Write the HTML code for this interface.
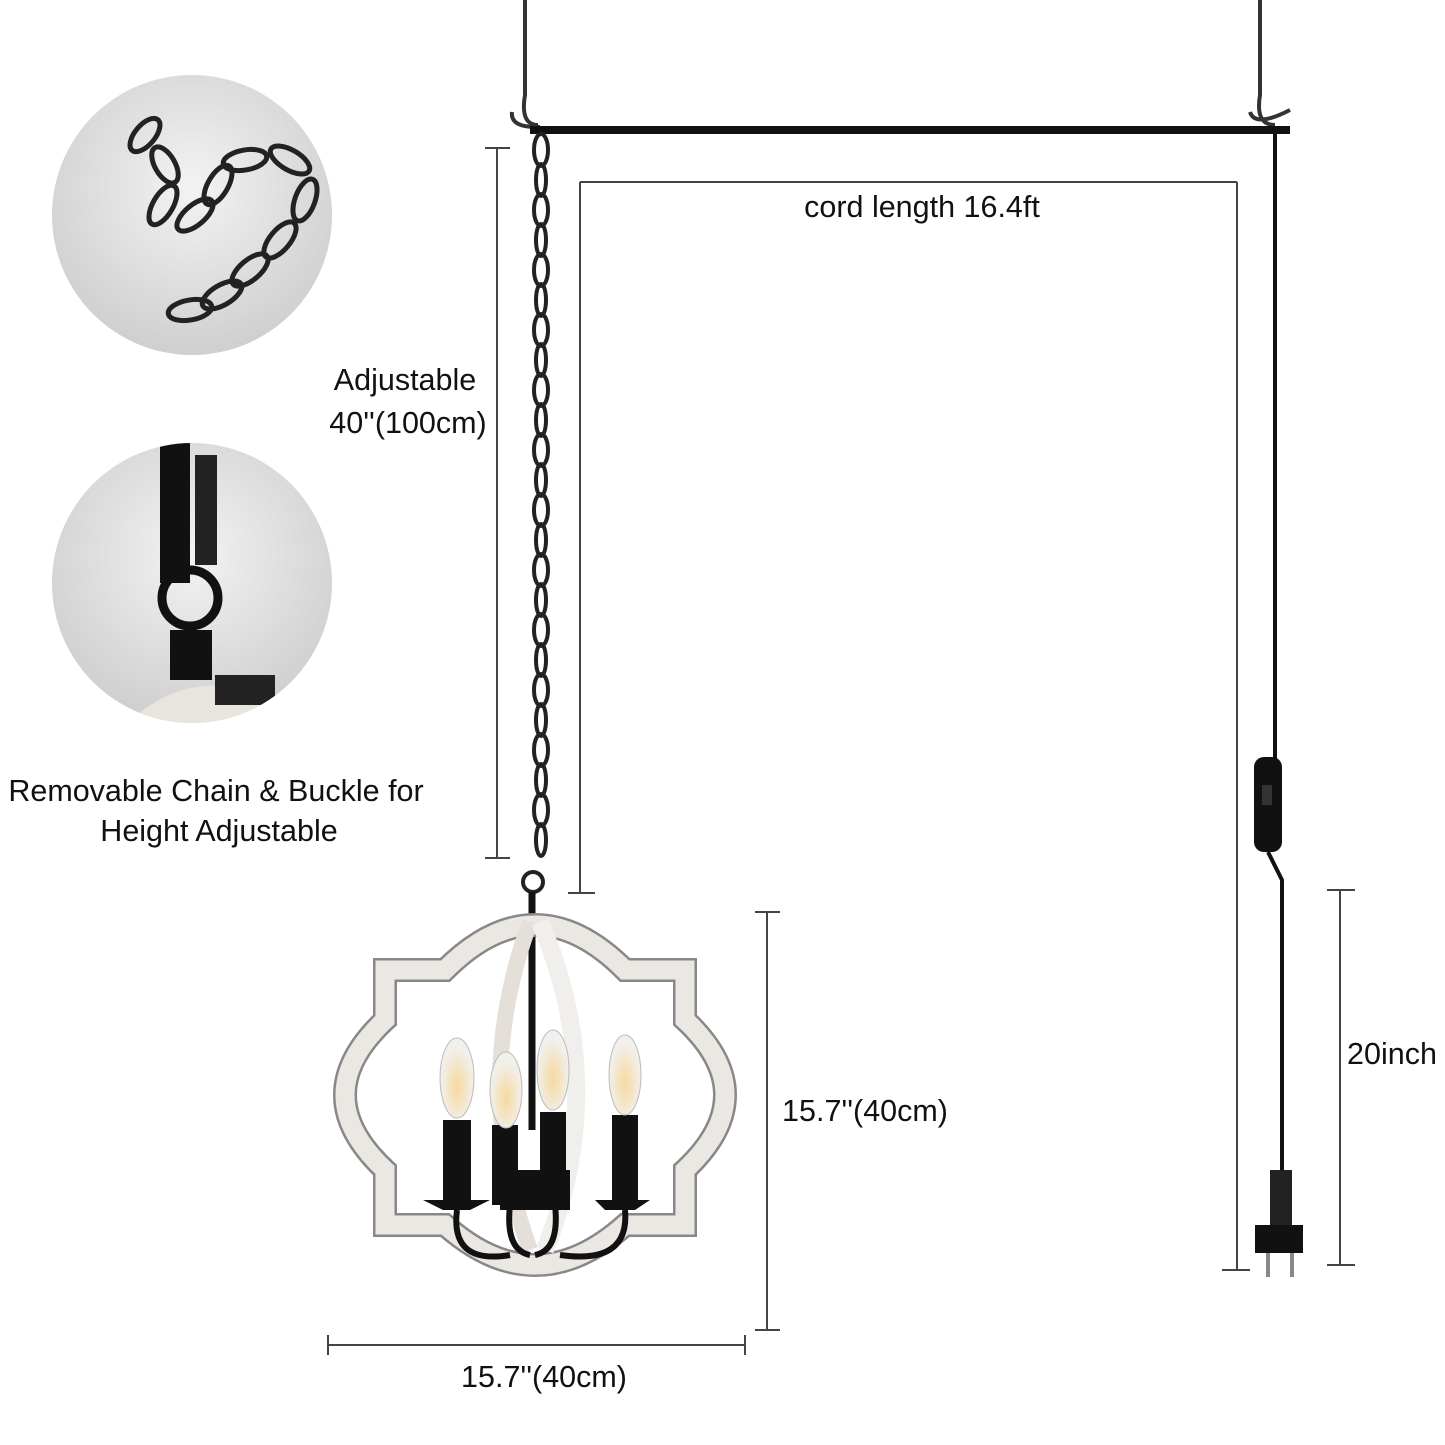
<!DOCTYPE html>
<html><head><style>
body{margin:0;background:#fff;}
svg{display:block;}
text{font-family:"Liberation Sans",sans-serif;fill:#111;}
</style></head><body>
<svg width="1445" height="1445" viewBox="0 0 1445 1445">
<defs>
<radialGradient id="g1" cx="0.5" cy="0.4" r="0.6"><stop offset="0" stop-color="#f3f3f3"/><stop offset="1" stop-color="#cfcfcf"/></radialGradient>
<radialGradient id="bulb" cx="0.5" cy="0.6" r="0.5"><stop offset="0" stop-color="#f6d9a0"/><stop offset="1" stop-color="#f2f0ec"/></radialGradient>
<clipPath id="c1"><circle cx="192" cy="215" r="140"/></clipPath>
<clipPath id="c2"><circle cx="192" cy="583" r="140"/></clipPath>
</defs>
<circle cx="192" cy="215" r="140" fill="url(#g1)"/>
<circle cx="192" cy="583" r="140" fill="url(#g1)"/>
<g clip-path="url(#c1)" fill="none" stroke="#222" stroke-width="5">
<ellipse cx="145" cy="135" rx="20" ry="10" transform="rotate(-50 145 135)"/>
<ellipse cx="165" cy="165" rx="20" ry="10" transform="rotate(60 165 165)"/>
<ellipse cx="163" cy="205" rx="22" ry="10" transform="rotate(-60 163 205)"/>
<ellipse cx="195" cy="215" rx="22" ry="10" transform="rotate(-40 195 215)"/>
<ellipse cx="218" cy="185" rx="22" ry="10" transform="rotate(-60 218 185)"/>
<ellipse cx="245" cy="160" rx="22" ry="10" transform="rotate(-10 245 160)"/>
<ellipse cx="290" cy="160" rx="22" ry="10" transform="rotate(30 290 160)"/>
<ellipse cx="305" cy="200" rx="22" ry="10" transform="rotate(-70 305 200)"/>
<ellipse cx="280" cy="240" rx="22" ry="10" transform="rotate(-50 280 240)"/>
<ellipse cx="250" cy="270" rx="22" ry="10" transform="rotate(-40 250 270)"/>
<ellipse cx="222" cy="295" rx="22" ry="10" transform="rotate(-30 222 295)"/>
<ellipse cx="190" cy="310" rx="22" ry="10" transform="rotate(-10 190 310)"/>
</g>
<g clip-path="url(#c2)">
<rect x="160" y="443" width="30" height="140" fill="#111"/>
<rect x="195" y="455" width="22" height="110" fill="#222"/>
<circle cx="190" cy="598" r="28" fill="none" stroke="#111" stroke-width="9"/>
<rect x="170" y="630" width="42" height="50" fill="#111"/>
<path d="M120 730 Q190 660 270 700 L270 730Z" fill="#e8e4de"/>
<rect x="215" y="675" width="60" height="30" fill="#222"/>
</g>
<g fill="none" stroke="#333" stroke-width="4">
<path d="M525 0 L525 95 Q520 125 538 125"/><path d="M512 112 Q510 128 540 127"/>
<path d="M1260 0 L1260 95 Q1255 125 1275 125"/><path d="M1250 112 Q1255 128 1290 110"/>
</g>
<rect x="530" y="126" width="760" height="8" fill="#111"/>
<g fill="none" stroke="#222" stroke-width="4">
<ellipse cx="541" cy="150" rx="7" ry="16"/><ellipse cx="541" cy="180" rx="5" ry="16"/>
<ellipse cx="541" cy="210" rx="7" ry="16"/><ellipse cx="541" cy="240" rx="5" ry="16"/>
<ellipse cx="541" cy="270" rx="7" ry="16"/><ellipse cx="541" cy="300" rx="5" ry="16"/>
<ellipse cx="541" cy="330" rx="7" ry="16"/><ellipse cx="541" cy="360" rx="5" ry="16"/>
<ellipse cx="541" cy="390" rx="7" ry="16"/><ellipse cx="541" cy="420" rx="5" ry="16"/>
<ellipse cx="541" cy="450" rx="7" ry="16"/><ellipse cx="541" cy="480" rx="5" ry="16"/>
<ellipse cx="541" cy="510" rx="7" ry="16"/><ellipse cx="541" cy="540" rx="5" ry="16"/>
<ellipse cx="541" cy="570" rx="7" ry="16"/><ellipse cx="541" cy="600" rx="5" ry="16"/>
<ellipse cx="541" cy="630" rx="7" ry="16"/><ellipse cx="541" cy="660" rx="5" ry="16"/>
<ellipse cx="541" cy="690" rx="7" ry="16"/><ellipse cx="541" cy="720" rx="5" ry="16"/>
<ellipse cx="541" cy="750" rx="7" ry="16"/><ellipse cx="541" cy="780" rx="5" ry="16"/>
<ellipse cx="541" cy="810" rx="7" ry="16"/><ellipse cx="541" cy="840" rx="5" ry="16"/>
<circle cx="533" cy="882" r="10"/>
</g>
<line x1="532" y1="892" x2="532" y2="1130" stroke="#111" stroke-width="7"/>
<path d="M385 970 L445 970 Q535 880 625 970 L685 970 L685 1020 Q765 1095 685 1170 L685 1225 L625 1225 Q535 1305 445 1225 L385 1225 L385 1170 Q305 1095 385 1020 Z" fill="none" stroke="#888" stroke-width="24"/>
<path d="M385 970 L445 970 Q535 880 625 970 L685 970 L685 1020 Q765 1095 685 1170 L685 1225 L625 1225 Q535 1305 445 1225 L385 1225 L385 1170 Q305 1095 385 1020 Z" fill="none" stroke="#ebe8e3" stroke-width="19"/>
<path d="M530 922 Q470 1085 530 1250" fill="none" stroke="#e4dfd8" stroke-width="16"/>
<path d="M540 922 Q610 1085 545 1250" fill="none" stroke="#f1efec" stroke-width="18"/>
<g fill="#111">
<rect x="443" y="1120" width="28" height="80"/><rect x="492" y="1125" width="26" height="80"/>
<rect x="540" y="1112" width="26" height="80"/><rect x="612" y="1115" width="26" height="85"/>
<rect x="500" y="1170" width="70" height="40"/>
<path d="M423 1200 L490 1200 L470 1210 L443 1210Z"/><path d="M595 1200 L650 1200 L635 1210 L605 1210Z"/>
</g>
<g fill="none" stroke="#111" stroke-width="6">
<path d="M457 1210 Q450 1265 510 1255"/><path d="M625 1210 Q630 1265 560 1255"/>
<path d="M510 1205 Q505 1250 530 1255"/><path d="M555 1205 Q560 1250 535 1255"/>
</g>
<ellipse cx="457" cy="1078" rx="17" ry="40" fill="url(#bulb)" stroke="#bbb"/>
<ellipse cx="506" cy="1090" rx="16" ry="38" fill="url(#bulb)" stroke="#bbb"/>
<ellipse cx="553" cy="1070" rx="16" ry="40" fill="url(#bulb)" stroke="#bbb"/>
<ellipse cx="625" cy="1075" rx="16" ry="40" fill="url(#bulb)" stroke="#bbb"/>
<line x1="1275" y1="130" x2="1275" y2="760" stroke="#111" stroke-width="4"/>
<rect x="1254" y="757" width="28" height="95" rx="10" fill="#111"/>
<rect x="1262" y="785" width="10" height="20" fill="#333"/>
<path d="M1268 852 L1282 880 L1282 1170" fill="none" stroke="#111" stroke-width="4"/>
<rect x="1270" y="1170" width="22" height="55" fill="#222"/>
<rect x="1255" y="1225" width="48" height="28" fill="#111"/>
<rect x="1266" y="1253" width="4" height="24" fill="#888"/><rect x="1290" y="1253" width="4" height="24" fill="#888"/>
<g stroke="#444" stroke-width="2">
<line x1="497" y1="148" x2="497" y2="858"/><line x1="485" y1="148" x2="510" y2="148"/><line x1="485" y1="858" x2="510" y2="858"/>
<line x1="580" y1="182" x2="1237" y2="182"/>
<line x1="580" y1="182" x2="580" y2="893"/><line x1="568" y1="893" x2="595" y2="893"/>
<line x1="1237" y1="182" x2="1237" y2="1270"/><line x1="1222" y1="1270" x2="1250" y2="1270"/>
<line x1="767" y1="912" x2="767" y2="1330"/><line x1="755" y1="912" x2="780" y2="912"/><line x1="755" y1="1330" x2="780" y2="1330"/>
<line x1="328" y1="1345" x2="745" y2="1345"/><line x1="328" y1="1335" x2="328" y2="1355"/><line x1="745" y1="1335" x2="745" y2="1355"/>
<line x1="1340" y1="890" x2="1340" y2="1265"/><line x1="1327" y1="890" x2="1355" y2="890"/><line x1="1327" y1="1265" x2="1355" y2="1265"/>
</g>
<g font-size="30.5">
<text x="922" y="217" text-anchor="middle">cord length 16.4ft</text>
<text x="405" y="390" text-anchor="middle">Adjustable</text>
<text x="408" y="433" text-anchor="middle">40''(100cm)</text>
<text x="216" y="801" text-anchor="middle">Removable Chain &amp; Buckle for</text>
<text x="219" y="841" text-anchor="middle">Height Adjustable</text>
<text x="865" y="1121" text-anchor="middle">15.7''(40cm)</text>
<text x="544" y="1387" text-anchor="middle">15.7''(40cm)</text>
<text x="1392" y="1064" text-anchor="middle">20inch</text>
</g>
</svg>
</body></html>
